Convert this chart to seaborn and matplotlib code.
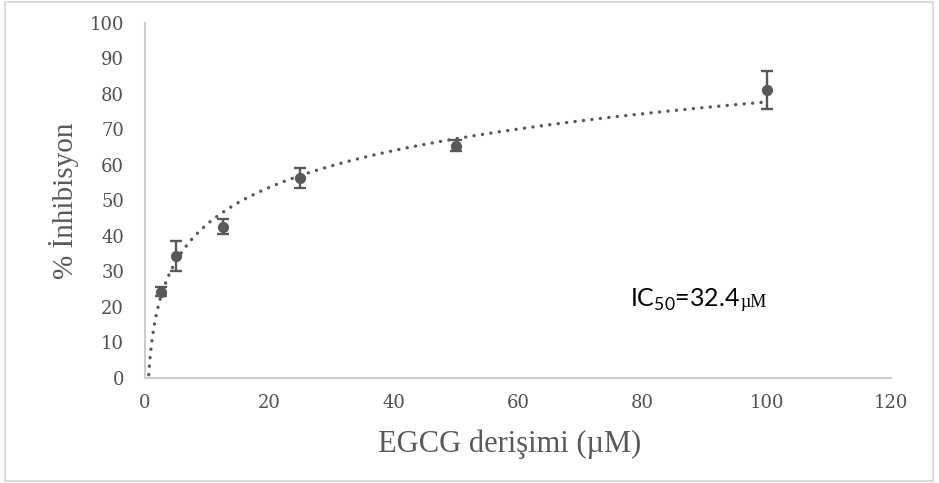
import numpy as np
import pandas as pd
import matplotlib
matplotlib.use("Agg")
import matplotlib.pyplot as plt
import seaborn as sns
from matplotlib.patches import Rectangle

# ---- data ----
conc = [2.5, 5, 12.5, 25, 50, 100]
inhib = [24.2, 34.4, 42.6, 56.4, 65.4, 81.2]
err = [1.3, 4.2, 2.2, 2.8, 1.5, 5.4]
xticks = [0, 20, 40, 60, 80, 100, 120]
yticks = [0, 10, 20, 30, 40, 50, 60, 70, 80, 90, 100]
xlabel = "EGCG derişimi (µM)"
ylabel = "% İnhibisyon"
ic50_text = "IC$_{\\mathregular{50}}$=32.4"
ic50_unit = "µM"

sns.set_style("white")
plt.rcParams['mathtext.fontset'] = 'custom'
plt.rcParams['mathtext.rm'] = 'Lato'

GRAY = "#595959"

df = pd.DataFrame({"conc": conc, "inhib": inhib, "err": err})

# logarithmic trendline fitted to the data
a, b = np.polyfit(np.log(df["conc"]), df["inhib"], 1)
xfit = np.linspace(0.5, 100, 400)
trend = pd.DataFrame({"x": xfit, "y": a * np.log(xfit) + b})

fig = plt.figure(figsize=(9.39, 4.83), dpi=100)
ax = fig.add_axes([145/939, 1 - 377.7/483, (891-145)/939, (377.7-23)/483])

sns.lineplot(data=trend, x="x", y="y", ax=ax, color=GRAY, lw=2.4,
             linestyle=(0, (0.05, 2.5)), dash_capstyle="round", zorder=2)
ax.errorbar(df["conc"], df["inhib"], yerr=df["err"], fmt="none",
            ecolor=GRAY, elinewidth=1.7, capsize=4.5, capthick=1.7, zorder=3)
sns.scatterplot(data=df, x="conc", y="inhib", ax=ax, color=GRAY, s=65,
                edgecolor=GRAY, linewidth=0, zorder=4)

ax.set_xlim(0, 120)
ax.set_ylim(0, 100)
ax.set_xticks(xticks)
ax.set_yticks(yticks)
ax.tick_params(axis="both", length=0, labelcolor="#505050", labelsize=13)
ax.tick_params(axis="y", pad=15)
ax.tick_params(axis="x", pad=12)
for lab in ax.get_xticklabels() + ax.get_yticklabels():
    lab.set_fontfamily("DejaVu Serif")

for s in ["top", "right"]:
    ax.spines[s].set_visible(False)
for s in ["left", "bottom"]:
    ax.spines[s].set_color("#cccccc")
    ax.spines[s].set_linewidth(1.5)

ax.set_xlabel(xlabel, fontsize=22, color=GRAY, family="Liberation Serif", labelpad=12)
ax.xaxis.set_label_coords(0.489, -0.145)
ax.set_ylabel(ylabel, fontsize=21, color=GRAY, family="Liberation Serif", labelpad=8)

t = ax.text(78, 20, ic50_text, fontsize=18, family="Lato", color="black", va="baseline")
ax.annotate(ic50_unit, xy=(1, 20), xycoords=(t, "data"), fontsize=13,
            family="Liberation Serif", color="black", va="baseline")

fig.patches.append(Rectangle((5/939, 2/483), 928/939, 479/483, transform=fig.transFigure,
                             fill=False, edgecolor="#d9d9d9", lw=1.3))

fig.savefig("out.png", dpi=100)
